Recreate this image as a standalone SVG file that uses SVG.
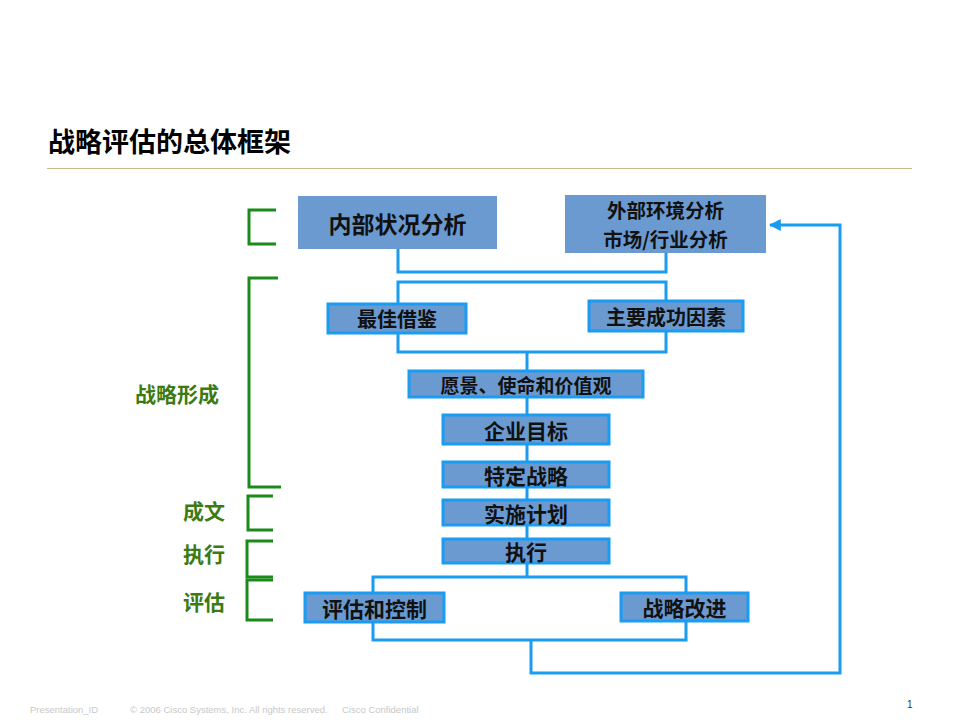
<svg xmlns="http://www.w3.org/2000/svg" width="960" height="720" viewBox="0 0 960 720">
<defs>
<style>
.bx{fill:#6a9ad0;stroke:#1a9cf2;stroke-width:3}
.bx0{fill:#6a9ad0}
.t{font-family:"Noto Sans CJK SC","Noto Sans",sans-serif;font-weight:bold;fill:#111;text-anchor:middle;dominant-baseline:central}
.c{fill:none;stroke:#1a9cf2;stroke-width:3}
.g{fill:none;stroke:#1a8a1a;stroke-width:3}
.gl{font-family:"Noto Sans CJK SC","Noto Sans",sans-serif;font-weight:bold;fill:#3c7a12;font-size:21px;dominant-baseline:central}
.f{font-family:"Liberation Sans",Arial,sans-serif;font-size:9.5px;fill:#c8c8c8}
</style>
<marker id="ah" viewBox="0 0 10 10" refX="9" refY="5" markerWidth="4" markerHeight="4" orient="auto" markerUnits="strokeWidth">
<path d="M0,0 L10,5 L0,10 Z" fill="#1a9cf2"/>
</marker>
</defs>
<rect width="960" height="720" fill="#fff"/>
<text x="48" y="152" style="font-family:'Noto Sans CJK SC',sans-serif;font-weight:bold;font-size:27px;fill:#000">战略评估的总体框架</text>
<line x1="47" y1="168.5" x2="912" y2="168.5" stroke="#c9b98c" stroke-width="1"/>

<g id="connectors">
<path class="c" d="M398,249 V272 H666 V253"/>
<path class="c" d="M398,303 V282 H666 V301"/>
<path class="c" d="M398,333 V352 H666 V331"/>
<path class="c" d="M527,352 V538"/>
<path class="c" d="M527,563 V577"/>
<path class="c" d="M373,593 V577 H686 V593"/>
<path class="c" d="M373,622 V640 H686 V620"/>
<path class="c" d="M531,640 V673 H840 V225 H770" marker-end="url(#ah)"/>
</g>

<g id="brackets">
<path class="g" d="M276,210 H249 V244 H276"/>
<path class="g" d="M278,278 H249 V487 H281"/>
<path class="g" d="M273,496 H248 V530 H273"/>
<path class="g" d="M273,541 H247 V577 H273"/>
<path class="g" d="M273,580 H247 V620 H273"/>
</g>

<g id="n1"><rect class="bx0" x="298" y="196" width="199" height="53"/><text class="t" x="397.5" y="222.5" font-size="23">内部状况分析</text></g>
<g id="n2"><rect class="bx0" x="565" y="195" width="201" height="58"/><text class="t" x="665.5" y="209.5" font-size="19.5">外部环境分析</text><text class="t" x="665.5" y="238.5" font-size="19.5">市场/行业分析</text></g>
<g id="n3"><rect class="bx" x="328" y="304" width="138" height="29"/><text class="t" x="397" y="318.5" font-size="20">最佳借鉴</text></g>
<g id="n4"><rect class="bx" x="589" y="301" width="154" height="30"/><text class="t" x="666" y="316" font-size="20">主要成功因素</text></g>
<g id="n5"><rect class="bx" x="409" y="371" width="234" height="26"/><text class="t" x="526" y="384" font-size="19">愿景、使命和价值观</text></g>
<g id="n6"><rect class="bx" x="443" y="415" width="166" height="29"/><text class="t" x="526" y="429.5" font-size="21">企业目标</text></g>
<g id="n7"><rect class="bx" x="443" y="462" width="166" height="25"/><text class="t" x="526" y="474.5" font-size="21">特定战略</text></g>
<g id="n8"><rect class="bx" x="443" y="500" width="166" height="25"/><text class="t" x="526" y="512.5" font-size="21">实施计划</text></g>
<g id="n9"><rect class="bx" x="443" y="539" width="166" height="24"/><text class="t" x="526" y="551" font-size="21">执行</text></g>
<g id="n10"><rect class="bx" x="305" y="593" width="139" height="29"/><text class="t" x="374.5" y="607.5" font-size="21">评估和控制</text></g>
<g id="n11"><rect class="bx" x="621" y="593" width="127" height="28"/><text class="t" x="684.5" y="607" font-size="21">战略改进</text></g>

<g id="labels">
<text class="gl" x="135" y="393">战略形成</text>
<text class="gl" x="183" y="510">成文</text>
<text class="gl" x="183" y="553">执行</text>
<text class="gl" x="183" y="601">评估</text>
</g>

<g id="footer">
<text class="f" x="30" y="713">Presentation_ID</text>
<text class="f" x="130" y="713">© 2006 Cisco Systems, Inc. All rights reserved.</text>
<text class="f" x="342" y="713">Cisco Confidential</text>
<text x="907" y="708" style="font-family:'Liberation Sans',Arial,sans-serif;font-size:10px;fill:#333">1</text>
</g>
</svg>
